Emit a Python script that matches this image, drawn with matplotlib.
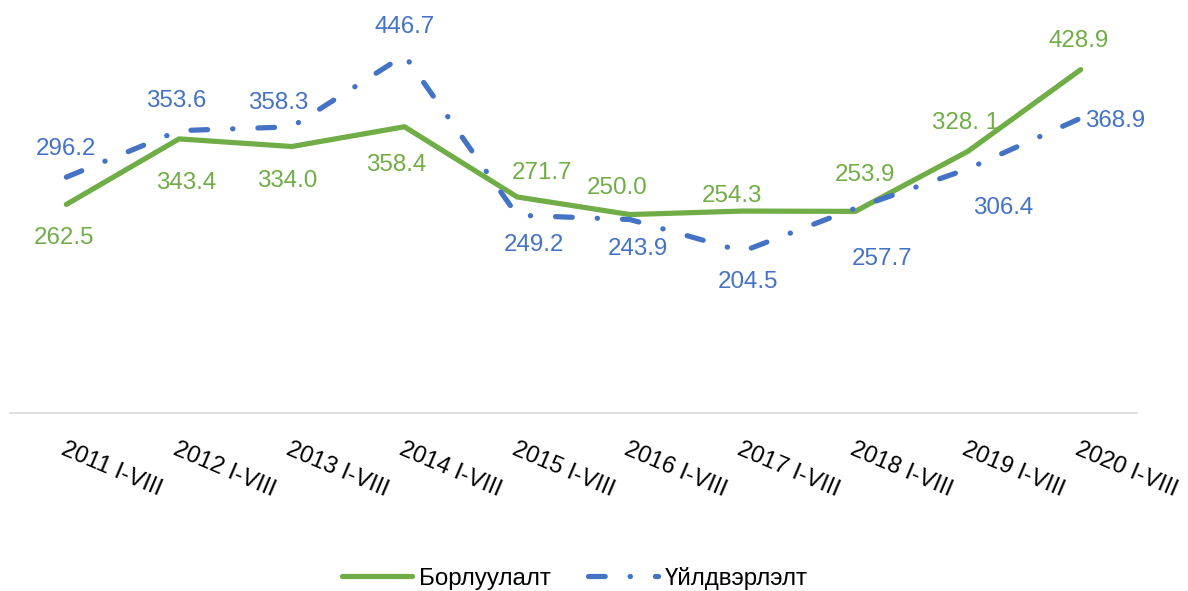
import matplotlib
matplotlib.use("Agg")
import matplotlib.pyplot as plt

years = ["2011 I-VIII", "2012 I-VIII", "2013 I-VIII", "2014 I-VIII", "2015 I-VIII",
         "2016 I-VIII", "2017 I-VIII", "2018 I-VIII", "2019 I-VIII", "2020 I-VIII"]
sales = [262.5, 343.4, 334.0, 358.4, 271.7, 250.0, 254.3, 253.9, 328.1, 428.9]
production = [296.2, 353.6, 358.3, 446.7, 249.2, 243.9, 204.5, 257.7, 306.4, 368.9]
sales_text = ["262.5", "343.4", "334.0", "358.4", "271.7", "250.0", "254.3", "253.9", "328. 1", "428.9"]
prod_text = ["296.2", "353.6", "358.3", "446.7", "249.2", "243.9", "204.5", "257.7", "306.4", "368.9"]

# label offsets in pixels (dx, dy) from the point to the middle of the digits
sales_off = [(-2, -31), (7, -41), (-5, -32), (-8, -36), (25, 27),
             (-13, 29), (-11, 18), (10, 39), (-2, 31), (-2, 31)]
prod_off = [(0, 31), (-3, 32), (-14, 26), (0, 31), (17, -27),
            (8, -27), (5, -28), (27, -48), (35, -36), (34, 0)]

GREEN = "#70AD47"
BLUE = "#4472C4"
LABEL_SIZE = 17.4
HALF_DIGIT = 0.716 * LABEL_SIZE * 100 / 72 / 2


def main():
    plt.rcParams['font.family'] = ['Liberation Sans', 'DejaVu Sans']
    fig = plt.figure(figsize=(11.88, 5.91), dpi=100)
    ax = fig.add_axes([10 / 1188, 1 - 413 / 591, 1127 / 1188, 405 / 591])

    x = list(range(len(years)))
    ax.plot(x, sales, color=GREEN, lw=3.75, solid_capstyle="round",
            solid_joinstyle="round", label="Борлуулалт")
    ax.plot(x, production, color=BLUE, lw=3.75, dashes=(3.2, 4.8, 0.05, 4.8),
            dash_capstyle="round", label="Үйлдвэрлэлт")

    for i in x:
        dx, dy = sales_off[i]
        ax.annotate(sales_text[i], (i, sales[i]), xytext=(dx, dy - HALF_DIGIT),
                    textcoords="offset pixels", ha="center", va="baseline",
                    color=GREEN, fontsize=LABEL_SIZE)
        dx, dy = prod_off[i]
        ax.annotate(prod_text[i], (i, production[i]), xytext=(dx, dy - HALF_DIGIT),
                    textcoords="offset pixels", ha="center", va="baseline",
                    color=BLUE, fontsize=LABEL_SIZE)

    ax.set_xlim(-0.5, len(years) - 0.5)
    ax.set_ylim(5, 505)
    ax.set_xticks(x)
    ax.set_xticklabels(years, rotation=-23, ha="left", va="top",
                       rotation_mode="anchor", fontsize=17)
    ax.tick_params(axis="x", length=0, pad=18)
    ax.set_yticks([])
    for side in ["top", "left", "right"]:
        ax.spines[side].set_visible(False)
    ax.spines["bottom"].set_color("#D9D9D9")
    ax.spines["bottom"].set_linewidth(1.2)

    fig.legend(loc="center", bbox_to_anchor=(575 / 1188, 1 - 578 / 591), ncol=2,
               frameon=False, fontsize=LABEL_SIZE, handlelength=2.9,
               handletextpad=0.3, columnspacing=1.5)

    fig.savefig("out.png", dpi=100)


if __name__ == "__main__":
    main()
